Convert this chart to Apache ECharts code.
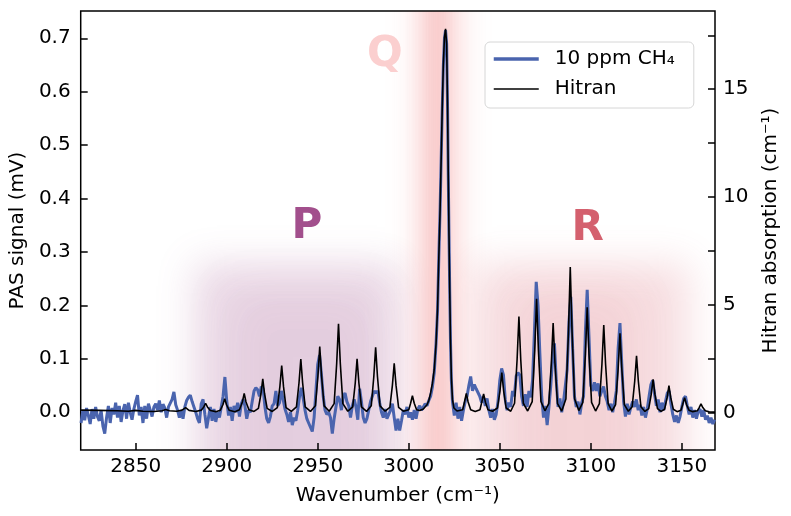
<!DOCTYPE html>
<html>
<head>
<meta charset="utf-8">
<title>PAS spectrum CH4</title>
<script src="https://cdn.jsdelivr.net/npm/echarts@6.0.0/dist/echarts.min.js"></script>
<style>
  html, body { margin: 0; padding: 0; background: #fff; }
  #main { width: 791px; height: 516px; }
</style>
</head>
<body>
<div id="main"></div>
<script>
// tick values
const xTicks = [2850, 2900, 2950, 3000, 3050, 3100, 3150];
const pasTicks = [0, 0.1, 0.2, 0.3, 0.4, 0.5, 0.6, 0.7];
const hitranTicks = [0, 2.5, 5, 7.5, 10, 12.5, 15, 17.5];
const hitranLabels = [0, 5, 10, 15];

// measured PAS signal, [wavenumber, mV]
const pasSignal = [
  [2820,-0.020],[2821,0.004],[2822,-0.015],[2823,0.008],[2824,-0.006],[2825,-0.022],[2826,0.006],[2827,-0.012],[2828,0.010],[2829,-0.008],
  [2830,-0.016],[2831,0.004],[2832,-0.026],[2833,-0.040],[2834,-0.010],[2835,0.012],[2836,-0.020],[2837,0.008],[2838,-0.004],[2839,0.018],
  [2840,-0.010],[2841,0.012],[2842,-0.018],[2843,0.003],[2844,0.015],[2845,-0.012],[2846,0.018],[2847,0.000],[2848,-0.014],[2849,0.006],
  [2850,0.020],[2851,0.032],[2852,-0.006],[2853,0.010],[2854,-0.020],[2855,0.012],[2856,-0.012],[2857,0.016],[2858,0.004],[2859,-0.008],
  [2860,0.010],[2861,0.016],[2862,0.004],[2863,0.022],[2864,0.000],[2865,0.015],[2866,0.008],[2867,-0.010],[2868,0.010],[2869,0.012],
  [2870,0.024],[2871,0.038],[2872,0.014],[2873,0.004],[2874,-0.010],[2875,0.002],[2876,-0.012],[2877,0.010],[2878,0.022],[2879,0.028],
  [2880,0.032],[2881,0.020],[2882,0.010],[2883,0.000],[2884,-0.012],[2885,-0.020],[2886,0.016],[2887,0.024],[2888,-0.004],[2889,-0.030],
  [2890,-0.010],[2891,0.010],[2892,-0.016],[2893,0.006],[2894,-0.018],[2895,0.000],[2896,-0.010],[2897,0.010],[2898,0.030],[2899,0.066],
  [2900,0.022],[2901,-0.006],[2902,0.010],[2903,-0.016],[2904,0.012],[2905,0.000],[2906,0.018],[2907,-0.008],[2908,0.016],[2909,0.024],
  [2910,0.012],[2911,-0.012],[2912,0.004],[2913,0.000],[2914,0.020],[2915,0.040],[2916,0.046],[2917,0.042],[2918,0.030],[2919,0.048],
  [2920,0.044],[2921,0.010],[2922,-0.012],[2923,-0.020],[2924,-0.008],[2925,0.012],[2926,0.016],[2927,0.040],[2928,0.012],[2929,0.018],
  [2930,0.040],[2931,0.024],[2932,0.006],[2933,-0.004],[2934,-0.018],[2935,0.000],[2936,-0.024],[2937,-0.010],[2938,-0.016],[2939,0.004],
  [2940,0.030],[2941,0.046],[2942,0.026],[2943,0.004],[2944,-0.012],[2945,-0.020],[2946,-0.028],[2947,-0.036],[2948,-0.010],[2949,0.040],
  [2950,0.090],[2951,0.107],[2952,0.072],[2953,0.030],[2954,0.004],[2955,-0.004],[2956,0.000],[2957,-0.010],[2958,-0.040],[2959,-0.012],
  [2960,0.010],[2961,0.030],[2962,0.024],[2963,0.004],[2964,0.030],[2965,0.036],[2966,0.020],[2967,0.012],[2968,-0.010],[2969,0.012],
  [2970,0.024],[2971,0.010],[2972,-0.014],[2973,0.044],[2974,0.020],[2975,-0.010],[2976,-0.020],[2977,-0.012],[2978,0.004],[2979,0.020],
  [2980,0.030],[2981,0.040],[2982,0.036],[2983,0.040],[2984,0.018],[2985,0.000],[2986,-0.010],[2987,0.006],[2988,-0.012],[2989,-0.010],
  [2990,0.004],[2991,0.016],[2992,-0.010],[2993,-0.034],[2994,-0.012],[2995,-0.034],[2996,-0.016],[2997,0.004],[2998,-0.004],[2999,0.010],
  [3000,-0.010],[3001,0.000],[3002,-0.014],[3003,0.004],[3004,-0.012],[3005,0.006],[3006,0.012],[3007,0.004],[3008,0.010],[3009,0.016],
  [3010,0.012],[3011,0.022],[3012,0.030],[3013,0.048],[3014,0.075],[3015,0.130],[3015.8,0.190],[3016.5,0.290],[3017.2,0.380],[3017.8,0.475],
  [3018.4,0.570],[3019,0.650],[3019.6,0.700],[3020.2,0.715],[3020.8,0.690],[3021.3,0.570],[3021.7,0.440],[3022.1,0.330],[3022.5,0.225],[3022.9,0.135],
  [3023.4,0.060],[3024,0.020],[3025,-0.006],[3026,0.018],[3027,-0.012],[3028,0.010],[3029,-0.016],[3030,0.004],[3031,0.020],[3032,0.030],
  [3033,0.050],[3034,0.067],[3035,0.040],[3036,0.052],[3037,0.044],[3038,0.046],[3039,0.030],[3040,0.018],[3041,0.030],[3042,0.012],
  [3043,0.026],[3044,0.004],[3045,-0.010],[3046,0.006],[3047,-0.014],[3048,-0.004],[3049,0.020],[3050,0.060],[3051,0.082],[3052,0.070],
  [3053,0.024],[3054,0.004],[3055,0.018],[3056,0.010],[3057,0.040],[3058,0.030],[3059,0.068],[3060,0.074],[3061,0.070],[3062,0.030],
  [3063,0.012],[3064,0.034],[3065,0.010],[3066,0.040],[3067,0.028],[3068,0.060],[3069,0.150],[3070,0.244],[3071,0.200],[3072,0.110],
  [3073,0.030],[3074,-0.010],[3075,0.012],[3076,-0.024],[3077,0.010],[3078,0.050],[3079,0.100],[3080,0.129],[3081,0.060],[3082,0.010],
  [3083,0.026],[3084,0.000],[3085,0.020],[3086,0.050],[3087,0.080],[3088,0.170],[3089,0.216],[3090,0.120],[3091,0.030],[3092,0.010],
  [3093,0.020],[3094,-0.004],[3095,0.018],[3096,0.030],[3097,0.150],[3098,0.229],[3099,0.140],[3100,0.050],[3101,0.040],[3102,0.056],
  [3103,0.040],[3104,0.054],[3105,0.030],[3106,0.040],[3107,0.048],[3108,0.030],[3109,0.020],[3110,0.004],[3111,0.016],[3112,0.000],
  [3113,0.018],[3114,0.040],[3115,0.120],[3116,0.167],[3117,0.090],[3118,0.020],[3119,-0.008],[3120,0.016],[3121,-0.004],[3122,0.010],
  [3123,0.020],[3124,0.010],[3125,0.024],[3126,0.004],[3127,0.014],[3128,-0.006],[3129,0.010],[3130,-0.010],[3131,0.006],[3132,0.030],
  [3133,0.052],[3134,0.060],[3135,0.034],[3136,0.012],[3137,0.024],[3138,0.000],[3139,0.018],[3140,0.004],[3141,0.020],[3142,0.036],
  [3143,0.040],[3144,0.016],[3145,-0.004],[3146,-0.018],[3147,-0.006],[3148,-0.020],[3149,-0.008],[3150,0.010],[3151,0.026],[3152,0.030],
  [3153,0.012],[3154,-0.004],[3155,0.010],[3156,-0.010],[3157,0.004],[3158,-0.012],[3159,0.002],[3160,0.006],[3161,-0.008],[3162,0.004],
  [3163,-0.014],[3164,-0.006],[3165,-0.020],[3166,-0.010],[3167,-0.022],[3168,-0.014]
];

// Hitran absorption, [wavenumber, cm^-1]
const hitranAbs = [
  [2820,0.10],[2830,0.09],[2840,0.07],[2846,0.05],[2850,0.09],[2854,0.05],[2860,0.04],[2864.5,0.07],[2866.5,0.13],[2868.5,0.07],
  [2872.5,0.05],[2875.5,0.10],[2877.4,0.22],[2879.3,0.09],[2883,0.04],
  [2886,0.10],[2887.4,0.25],[2888.4,0.42],[2889.4,0.25],[2891,0.08],[2894,0.03],
  [2896.5,0.10],[2897.9,0.35],[2898.9,0.63],[2899.9,0.35],[2901.3,0.10],[2904.5,0.03],
  [2907,0.12],[2908.6,0.48],[2909.6,0.88],[2910.6,0.48],[2912.2,0.12],[2915,0.04],
  [2917.4,0.18],[2918.8,0.85],[2919.8,1.55],[2920.8,0.85],[2922.2,0.18],[2925,0.04],
  [2927.8,0.22],[2929.2,1.19],[2930.2,2.17],[2931.2,1.19],[2932.6,0.22],[2935.5,0.04],
  [2938.3,0.25],[2939.7,1.36],[2940.7,2.47],[2941.7,1.36],[2943.1,0.25],[2946,0.04],
  [2948.7,0.30],[2950.1,1.68],[2951.1,3.05],[2952.1,1.68],[2953.5,0.30],[2956.3,0.05],
  [2959,0.40],[2960.4,2.26],[2961.4,4.11],[2962.4,2.26],[2963.8,0.40],[2966.5,0.05],
  [2969.2,0.25],[2970.6,1.36],[2971.6,2.48],[2972.6,1.36],[2974,0.25],[2976.8,0.04],
  [2979.4,0.30],[2980.8,1.66],[2981.8,3.02],[2982.8,1.66],[2984.2,0.30],[2987,0.05],
  [2989.6,0.23],[2991,1.25],[2992,2.28],[2993,1.25],[2994.4,0.23],[2997,0.05],
  [3000,0.12],[3001,0.42],[3002,0.77],[3003,0.42],[3004.3,0.12],[3006,0.08],
  [3008,0.15],[3010,0.35],[3011,0.55],[3012,0.90],[3013,1.35],[3014,2.0],[3015,3.2],[3015.8,4.8],[3016.5,7.2],[3017.2,9.4],
  [3017.8,11.8],[3018.4,14.2],[3019,16.2],[3019.6,17.4],[3020.2,17.8],[3020.8,17.1],[3021.3,14.2],[3021.7,11.0],[3022.1,8.2],[3022.5,5.6],
  [3022.9,3.4],[3023.4,1.6],[3024,0.6],[3024.8,0.2],[3026.5,0.06],
  [3029.6,0.12],[3030.6,0.48],[3031.6,0.88],[3032.6,0.48],[3034,0.12],[3036.5,0.04],
  [3039.1,0.12],[3040.1,0.47],[3041.1,0.85],[3042.1,0.47],[3043.5,0.12],[3046,0.05],
  [3048.7,0.20],[3050.1,1.00],[3051.1,1.84],[3052.1,1.00],[3053.5,0.20],[3056,0.05],
  [3058.1,0.42],[3059.5,2.45],[3060.5,4.45],[3061.5,2.45],[3062.9,0.42],[3065.3,0.06],
  [3067.8,0.50],[3069.2,2.90],[3070.2,5.27],[3071.2,2.90],[3072.6,0.50],[3074.8,0.07],
  [3076.9,0.40],[3078.3,2.28],[3079.3,4.14],[3080.3,2.28],[3081.7,0.40],[3084,0.06],
  [3086.3,0.62],[3087.7,3.70],[3088.7,6.74],[3089.7,3.70],[3091.1,0.62],[3093.4,0.08],
  [3095.6,0.46],[3097,2.68],[3098,4.88],[3099,2.68],[3100.4,0.46],[3102.6,0.06],
  [3104.7,0.40],[3106.1,2.23],[3107.1,4.05],[3108.1,2.23],[3109.5,0.40],[3111.6,0.06],
  [3113.6,0.36],[3115,2.02],[3116,3.67],[3117,2.02],[3118.4,0.36],[3120.6,0.05],
  [3122.7,0.26],[3124.1,1.44],[3125.1,2.62],[3126.1,1.44],[3127.5,0.26],[3129.7,0.04],
  [3131.8,0.17],[3133.2,0.84],[3134.2,1.53],[3135.2,0.84],[3136.6,0.17],[3138.6,0.04],
  [3140.5,0.14],[3141.9,0.68],[3142.9,1.24],[3143.9,0.68],[3145.3,0.14],[3147.4,0.03],
  [3149.5,0.10],[3150.5,0.37],[3151.5,0.68],[3152.5,0.37],[3153.9,0.10],[3156,0.03],
  [3158.5,0.07],[3159.5,0.22],[3160.5,0.39],[3161.5,0.22],[3162.9,0.07],[3165,0.02],[3168.2,0.01]
];

const seriesNames = ['10 ppm CH\u2084', 'Hitran'];
const branchNames = ['P', 'Q', 'R'];

const FONT = 'DejaVu Sans';
const BLUE = '#4a64ae';
const xMin = 2819.8, xMax = 3168.2;
const pasMin = -0.0706, pasMax = 0.751;
const hitMin = -1.75, hitMax = 18.63;

const chart = echarts.init(document.getElementById('main'), null, { renderer: 'canvas' });

const tickStyle = { inside: true, length: 7, lineStyle: { color: '#000', width: 1.5 } };

chart.setOption({
  animation: false,
  textStyle: { fontFamily: FONT },
  grid: { left: 78, right: 76, top: 11, bottom: 66, show: true, borderColor: '#000', borderWidth: 1.5 },
  legend: {
    left: 485, top: 42, orient: 'vertical',
    padding: [7, 19, 9, 7],
    itemGap: 10, itemWidth: 45, itemHeight: 12,
    backgroundColor: 'rgba(255,255,255,0.8)',
    borderColor: '#d6d6d6', borderWidth: 1, borderRadius: 5,
    itemStyle: { opacity: 0 },
    textStyle: { fontSize: 20, color: '#000', fontFamily: FONT, padding: [0, 0, 0, 11] },
    data: [
      { name: seriesNames[0], lineStyle: { color: BLUE, width: 3.5 } },
      { name: seriesNames[1], lineStyle: { color: '#000', width: 1.5 } }
    ]
  },
  xAxis: {
    type: 'value', min: xMin, max: xMax,
    name: 'Wavenumber (cm\u207B\u00B9)', nameLocation: 'middle', nameGap: 36,
    nameTextStyle: { fontSize: 20, color: '#000', fontFamily: FONT },
    axisLine: { show: false, onZero: false },
    splitLine: { show: false },
    axisTick: Object.assign({ customValues: xTicks }, tickStyle),
    axisLabel: { customValues: xTicks, fontSize: 20, color: '#000', margin: 7, fontFamily: FONT,
      formatter: v => String(v) }
  },
  yAxis: [
    {
      type: 'value', position: 'left', min: pasMin, max: pasMax,
      name: 'PAS signal (mV)', nameLocation: 'middle', nameGap: 50, nameRotate: 90,
      nameTextStyle: { fontSize: 20, color: '#000', fontFamily: FONT },
      axisLine: { show: false, onZero: false },
      splitLine: { show: false },
      axisTick: Object.assign({ customValues: pasTicks }, tickStyle),
      axisLabel: { customValues: pasTicks, fontSize: 20, color: '#000', margin: 10, fontFamily: FONT,
        formatter: v => v.toFixed(1) }
    },
    {
      type: 'value', position: 'right', min: hitMin, max: hitMax,
      name: 'Hitran absorption (cm\u207B\u00B9)', nameLocation: 'middle', nameGap: 46, nameRotate: 90,
      nameTextStyle: { fontSize: 20, color: '#000', fontFamily: FONT },
      axisLine: { show: false, onZero: false },
      splitLine: { show: false },
      axisTick: Object.assign({ customValues: hitranTicks }, tickStyle),
      axisLabel: { customValues: hitranLabels, fontSize: 20, color: '#000', margin: 8, fontFamily: FONT,
        formatter: v => String(v) }
    }
  ],
  series: [
    {
      name: seriesNames[0], type: 'line', yAxisIndex: 0, data: pasSignal,
      symbol: 'none', showSymbol: false, silent: true,
      lineStyle: { color: BLUE, width: 3 }, itemStyle: { color: BLUE }
    },
    {
      name: seriesNames[1], type: 'line', yAxisIndex: 1, data: hitranAbs,
      symbol: 'none', showSymbol: false, silent: true,
      lineStyle: { color: '#000', width: 1.6 }, itemStyle: { color: '#000' }
    }
  ]
});

// background glows + P/Q/R labels, placed in data coordinates
const px = (wn, v) => chart.convertToPixel({ gridIndex: 0 }, [wn, v]);

// soft rect: draw off-canvas and move only its blurred shadow into place
function glow(wn0, wn1, vTop, vBot, color, blur) {
  const a = px(wn0, vTop), b = px(wn1, vBot);
  const off = 3000;
  return {
    type: 'rect', silent: true, z: -10,
    shape: { x: a[0] - off, y: a[1], width: b[0] - a[0], height: b[1] - a[1] },
    style: { fill: '#000', shadowBlur: blur, shadowColor: color, shadowOffsetX: off, shadowOffsetY: 0 }
  };
}

const tl = px(xMin, pasMax), br = px(xMax, pasMin);
function cover(x, y, w, h) {
  return { type: 'rect', silent: true, z: -5, shape: { x, y, width: w, height: h }, style: { fill: '#fff' } };
}

function letter(text, wn, v, color) {
  const p = px(wn, v);
  return {
    type: 'text', silent: true, z: 1, x: p[0], y: p[1],
    style: { text, fill: color, font: 'bold 42px "DejaVu Sans"', align: 'center', verticalAlign: 'middle' }
  };
}

chart.setOption({
  graphic: [
    glow(2882, 2995, 0.28, -0.3, 'rgba(160,80,140,0.20)', 36),
    glow(2900, 2985, 0.23, -0.3, 'rgba(160,80,140,0.10)', 44),
    glow(3036, 3154, 0.28, -0.3, 'rgba(214,96,112,0.20)', 36),
    glow(3058, 3125, 0.23, -0.3, 'rgba(214,96,112,0.10)', 44),
    glow(3003, 3030, 1.2, -0.4, 'rgba(240,110,110,0.18)', 30),
    glow(3010, 3021, 1.2, -0.4, 'rgba(235,70,70,0.24)', 22),
    cover(0, 0, 791, tl[1]),
    cover(0, br[1], 791, 516 - br[1]),
    cover(0, 0, tl[0], 516),
    cover(br[0], 0, 791 - br[0], 516),
    letter(branchNames[0], 2944.1, 0.347, '#a24f8c'),
    letter(branchNames[1], 2986.9, 0.669, '#fbcfcf'),
    letter(branchNames[2], 3098.2, 0.343, '#d4606e')
  ]
});
</script>
</body>
</html>
